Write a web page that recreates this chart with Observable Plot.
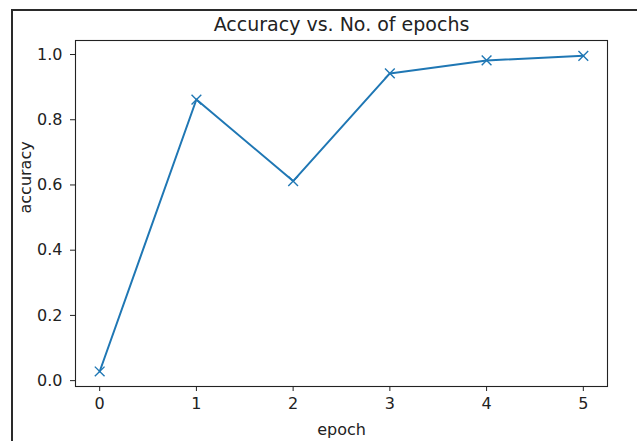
<!DOCTYPE html>
<html>
<head>
<meta charset="utf-8">
<script src="https://cdn.jsdelivr.net/npm/d3@7"></script>
<script src="https://cdn.jsdelivr.net/npm/@observablehq/plot@0.6"></script>
<style>
  html, body { margin: 0; padding: 0; background: #ffffff; }
  #wrap { position: relative; width: 637px; height: 441px; overflow: hidden; background: #ffffff; }
  #outer { position: absolute; left: 11px; top: 9px; right: -4px; bottom: -4px; border-left: 2px solid #2a2a2a; border-top: 2px solid #2a2a2a; pointer-events: none; }
  svg { display: block; }
</style>
</head>
<body>
<div id="wrap"><div id="chart"></div><div id="outer"></div></div>
<script>
const epochs = [0, 1, 2, 3, 4, 5];
const accuracy = [0.028, 0.862, 0.612, 0.942, 0.982, 0.996];
const yTicks = [0, 0.2, 0.4, 0.6, 0.8, 1.0];
const xTicks = [0, 1, 2, 3, 4, 5];
const titleText = "Accuracy vs. No. of epochs";
const xLabel = "epoch";
const yLabel = "accuracy";

const data = epochs.map((e, i) => ({epoch: e, accuracy: accuracy[i]}));
const color = "#1f77b4";

const chart = Plot.plot({
  width: 637,
  height: 441,
  marginLeft: 75,
  marginRight: 30,
  marginTop: 40,
  marginBottom: 55,
  style: {background: "transparent", fontFamily: "DejaVu Sans", fontSize: "16px", color: "#222"},
  x: {domain: [-0.25, 5.25]},
  y: {domain: [-0.018, 1.043]},
  marks: [
    Plot.frame({stroke: "#222", strokeWidth: 1.1}),
    Plot.axisX({ticks: xTicks, tickSize: 5, tickPadding: 6, tickFormat: d => String(d), label: null, fontSize: 16, stroke: "#222"}),
    Plot.axisY({ticks: yTicks, tickSize: 5, tickPadding: 8, tickFormat: d => d.toFixed(1), label: null, fontSize: 16, stroke: "#222"}),
    Plot.line(data, {x: "epoch", y: "accuracy", stroke: color, strokeWidth: 2}),
    Plot.dot(data, {x: "epoch", y: "accuracy", symbol: "times", r: 4.5, stroke: color, strokeWidth: 1.4}),
    Plot.text([titleText], {frameAnchor: "top", dy: -16, lineAnchor: "middle", fontSize: 19, fill: "#222"}),
    Plot.text([xLabel], {frameAnchor: "bottom", dy: 43, lineAnchor: "middle", fontSize: 16, fill: "#222"}),
    Plot.text([yLabel], {frameAnchor: "left", dx: -50, rotate: -90, lineAnchor: "middle", fontSize: 16, fill: "#222"})
  ]
});
document.getElementById("chart").appendChild(chart);
</script>
</body>
</html>
